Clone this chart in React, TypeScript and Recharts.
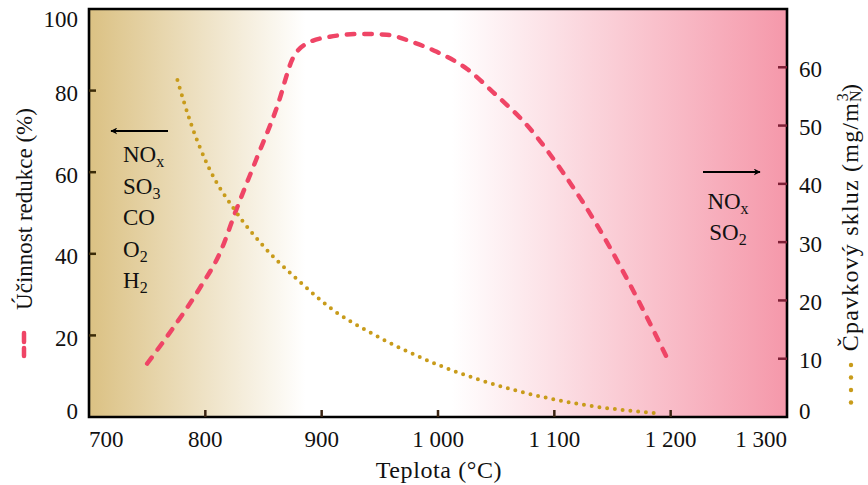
import { ComposedChart, Line, XAxis, YAxis, CartesianGrid, ReferenceArea } from "recharts";

// temperature axis (°C)
const tempTicks = [700, 800, 900, 1000, 1100, 1200, 1300];
const efficiencyTicks = [0, 20, 40, 60, 80, 100];
const slipTicks = [0, 10, 20, 30, 40, 50, 60];

// reduction efficiency (%), left axis
const efficiencyTemp = [750, 772, 795, 813, 827, 844, 862, 875, 887, 907, 935, 956, 978, 999, 1025, 1047, 1079, 1107, 1137, 1159, 1180, 1197];
const efficiencyValue = [13.1, 21.7, 31.5, 40.5, 51.1, 63.3, 76.3, 87.8, 91.5, 93.2, 93.9, 93.7, 91.9, 89.5, 85.3, 79.7, 70.7, 60.1, 46.9, 35.7, 24.2, 14.4];

// ammonia slip (mg/m_N^3), right axis
const slipTemp = [776, 787, 802, 826, 850, 879, 913, 939, 1002, 1068, 1125, 1191];
const slipValue = [57.8, 50.7, 43.2, 35.3, 29.3, 23.6, 17.9, 14.8, 8.8, 4.5, 2.1, 0.6];

const leftSpecies = [["NO", "x"], ["SO", "3"], ["CO", ""], ["O", "2"], ["H", "2"]];
const rightSpecies = [["NO", "x"], ["SO", "2"]];

const efficiencyData = efficiencyTemp.map((t, i) => ({ t, v: efficiencyValue[i] }));
const slipData = slipTemp.map((t, i) => ({ t, v: slipValue[i] }));

const W = 868;
const H = 485;
const PLOT = { left: 89, right: 787, top: 9, bottom: 417 };
const TXT = { fontFamily: '"Liberation Serif"' };
const TITLE = { fontFamily: '"Liberation Serif"', letterSpacing: 0.6 };
const FS = 23;
const RED = "#ef4566";
const GOLD = "#c89b1a";

function formatTemp(v: number): string {
  return v >= 1000 ? `${Math.floor(v / 1000)} ${String(v % 1000).padStart(3, "0")}` : String(v);
}

function TempTick({ x, payload }: any) {
  const v = payload.value;
  const anchor = v === 700 ? "start" : v === 1300 ? "end" : "middle";
  const tx = v === 700 ? PLOT.left : v === 1300 ? PLOT.right : x;
  return (
    <g>
      {v > 700 && v < 1300 && <line x1={x} x2={x} y1={PLOT.bottom} y2={PLOT.bottom - 7} stroke="#3a2412" strokeWidth={2.5} />}
      <text x={tx} y={PLOT.bottom + 30} textAnchor={anchor} style={TXT} fontSize={FS} fill="#111">
        {formatTemp(v)}
      </text>
    </g>
  );
}

function EfficiencyTick({ y, payload }: any) {
  const v = payload.value;
  const shift = v === 100 ? 10 : v === 0 ? -6 : 3;
  return (
    <g>
      {v > 0 && v < 100 && <line x1={PLOT.left} x2={PLOT.left + 7} y1={y} y2={y} stroke="#3a2a08" strokeWidth={2.5} />}
      <text x={78} y={y + shift + 7.5} textAnchor="end" style={TXT} fontSize={FS} fill="#111">
        {v}
      </text>
    </g>
  );
}

function SlipTick({ y, payload }: any) {
  const v = payload.value;
  const shift = v === 0 ? -6 : 2;
  return (
    <g>
      {v > 0 && <line x1={PLOT.right - 9} x2={PLOT.right} y1={y} y2={y} stroke="#7d1f35" strokeWidth={2.5} />}
      <text x={799} y={y + shift + 7.5} textAnchor="start" style={TXT} fontSize={FS} fill="#111">
        {v}
      </text>
    </g>
  );
}

export default function App() {
  return (
    <div style={{ position: "absolute", left: 0, top: 0, width: W, height: H, background: "#fff" }}>
      <ComposedChart width={W} height={H} margin={{ top: PLOT.top, right: 0, bottom: 0, left: 0 }}>
        <defs>
          <linearGradient id="bg" x1="0" y1="0" x2="1" y2="0">
            <stop offset="0" stopColor="#dbc183" />
            <stop offset="0.31" stopColor="#ffffff" />
            <stop offset="0.52" stopColor="#ffffff" />
            <stop offset="1" stopColor="#f598aa" />
          </linearGradient>
          <marker id="arrow" viewBox="0 0 10 10" refX="9" refY="5" markerWidth="7" markerHeight="7" orient="auto" markerUnits="userSpaceOnUse">
            <path d="M0,0 L10,5 L0,10 L3,5 Z" fill="#000" />
          </marker>
        </defs>
        <CartesianGrid horizontal={false} vertical={false} fill="url(#bg)" fillOpacity={1} />
        <XAxis
          dataKey="t"
          type="number"
          domain={[700, 1300]}
          ticks={tempTicks}
          height={H - PLOT.bottom}
          axisLine={false}
          tickLine={false}
          tick={<TempTick />}
          allowDataOverflow
        />
        <YAxis yAxisId="left" domain={[0, 100]} ticks={efficiencyTicks} width={PLOT.left} axisLine={false} tickLine={false} tick={<EfficiencyTick />} />
        <YAxis yAxisId="right" orientation="right" domain={[0, 70]} ticks={slipTicks} width={W - PLOT.right} axisLine={false} tickLine={false} tick={<SlipTick />} />
        <Line
          yAxisId="left"
          data={efficiencyData}
          dataKey="v"
          type="monotone"
          stroke={RED}
          strokeWidth={4.5}
          strokeDasharray="7.5 10"
          strokeLinecap="round"
          dot={false}
          activeDot={false}
          isAnimationActive={false}
        />
        <Line
          yAxisId="right"
          data={slipData}
          dataKey="v"
          type="monotone"
          stroke={GOLD}
          strokeWidth={4}
          strokeDasharray="0 7.8"
          strokeLinecap="round"
          dot={false}
          activeDot={false}
          isAnimationActive={false}
        />
        <ReferenceArea yAxisId="left" x1={700} x2={1300} y1={0} y2={100} fill="none" stroke="#000" strokeWidth={2.6} ifOverflow="visible" />

        <g fill="#111">
          {/* left annotation */}
          <line x1={168} y1={131} x2={111} y2={131} stroke="#000" strokeWidth={1.8} markerEnd="url(#arrow)" />
          {leftSpecies.map(([base, sub], i) => (
            <text key={base + sub} x={123} y={162 + i * 31.5} fontSize={FS} style={TXT}>
              {base}
              {sub && (
                <tspan fontSize={16} dy={5}>
                  {sub}
                </tspan>
              )}
            </text>
          ))}
          {/* right annotation */}
          <line x1={703} y1={172} x2={760} y2={172} stroke="#000" strokeWidth={1.8} markerEnd="url(#arrow)" />
          {rightSpecies.map(([base, sub], i) => (
            <text key={base + sub} x={728} y={209 + i * 31} fontSize={FS} textAnchor="middle" style={TXT}>
              {base}
              <tspan fontSize={16} dy={5}>
                {sub}
              </tspan>
            </text>
          ))}

          {/* axis titles */}
          <text x={W / 2 + 5} y={478} fontSize={24} textAnchor="middle" style={TITLE}>
            Teplota (°C)
          </text>
          <text transform="translate(32,209) rotate(-90)" fontSize={23} textAnchor="middle" style={TXT}>
            Účinnost redukce (%)
          </text>
          <line x1={24} y1={333} x2={24} y2={342} stroke={RED} strokeWidth={4.5} strokeLinecap="round" />
          <line x1={24} y1={348} x2={24} y2={356} stroke={RED} strokeWidth={4.5} strokeLinecap="round" />

          <text transform="translate(858,217) rotate(-90)" fontSize={24} textAnchor="middle" style={{ ...TXT, letterSpacing: 1.2 }}>
            Čpavkový skluz (mg/m
            <tspan fontSize={16} dy={3}>
              N
            </tspan>
            <tspan fontSize={16} dx={-12} dy={-13}>
              3
            </tspan>
            <tspan dy={10}>)</tspan>
          </text>
          {[365, 377.5, 390, 402.5].map((cy) => (
            <circle key={cy} cx={851} cy={cy} r={2.2} fill={GOLD} />
          ))}
        </g>
      </ComposedChart>
    </div>
  );
}
